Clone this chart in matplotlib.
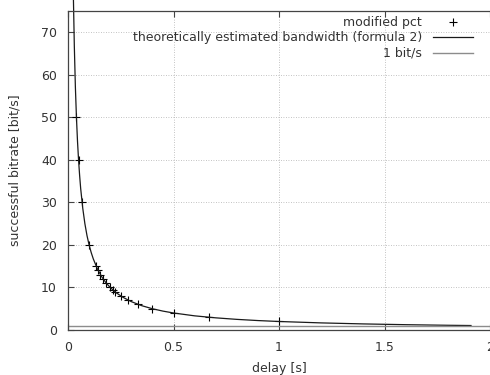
import matplotlib
matplotlib.use('Agg')
import matplotlib.pyplot as plt

# measured points (modified pct)
pct_delay = [0.04, 0.05, 0.0667, 0.1, 0.133, 0.143, 0.154, 0.167, 0.182, 0.2, 0.211,
             0.222, 0.25, 0.286, 0.333, 0.4, 0.5, 0.667, 1.0]
pct_rate = [50, 40, 30, 20, 15, 14, 13, 12, 11, 10, 9.5, 9, 8, 7, 6, 5, 4, 3, 2]

# theoretical curve (it runs past the top border)
theo_delay = [0.0257, 0.03, 0.035, 0.04, 0.045, 0.05, 0.055, 0.06, 0.07, 0.08, 0.09, 0.1,
              0.11, 0.12, 0.14, 0.16, 0.18, 0.2, 0.23, 0.26, 0.3, 0.35, 0.4, 0.45, 0.5,
              0.6, 0.7, 0.8, 0.9, 1.0, 1.2, 1.4, 1.6, 1.8, 1.91]
theo_rate = [77.8, 66.7, 57.1, 50, 44.4, 40, 36.4, 33.3, 28.6, 25, 22.2, 20,
             18.2, 16.7, 14.3, 12.5, 11.1, 10, 8.7, 7.7, 6.67, 5.71, 5, 4.44, 4,
             3.33, 2.86, 2.5, 2.22, 2, 1.67, 1.43, 1.25, 1.11, 1.05]

one_bit = [1, 1]
one_bit_x = [0, 2]

xticks = [0, 0.5, 1, 1.5, 2]
xticklabels = ['0', '0.5', '1', '1.5', '2']
yticks = [0, 10, 20, 30, 40, 50, 60, 70]

txt = '#333333'
plt.rcParams['font.family'] = 'DejaVu Sans'

fig = plt.figure(figsize=(4.9, 3.75), dpi=100)
ax = fig.add_axes([68 / 490, 45 / 375, 422 / 490, 319 / 375])

ax.plot(pct_delay, pct_rate, '+', color='black', markersize=5.5, mew=0.8,
        label='modified pct')
ax.plot(theo_delay, theo_rate, '-', color='#1a1a1a', lw=0.9, clip_on=False,
        label='theoretically estimated bandwidth (formula 2)')
ax.plot(one_bit_x, one_bit, '-', color='#8c8c8c', lw=1.0, label='1 bit/s')

ax.set_xlim(0, 2)
ax.set_ylim(0, 75)
ax.set_xticks(xticks)
ax.set_xticklabels(xticklabels)
ax.set_yticks(yticks)

ax.grid(color='#b0b0b0', linestyle=(0, (1, 2)), linewidth=0.6)
ax.tick_params(direction='in', length=4, width=0.8, top=True, right=False,
               labelsize=9, labelcolor=txt, color='#444444', pad=8)
for s in ['left', 'bottom', 'top']:
    ax.spines[s].set_color('#444444')
    ax.spines[s].set_linewidth(0.9)
ax.spines['right'].set_visible(False)

ax.set_xlabel('delay [s]', fontsize=9, color=txt, labelpad=6)
ax.set_ylabel('successful bitrate [bit/s]', fontsize=9, color=txt, labelpad=14)

leg = ax.legend(loc='upper right', bbox_to_anchor=(0.972, 1.0), markerfirst=False,
                frameon=False, fontsize=9, handlelength=3.2, handletextpad=0.9,
                labelspacing=0.2, borderaxespad=0.0)
for t in leg.get_texts():
    t.set_color(txt)
    t.set_ha('right')
leg._legend_box.align = 'right'

fig.savefig('out.png', dpi=100)
